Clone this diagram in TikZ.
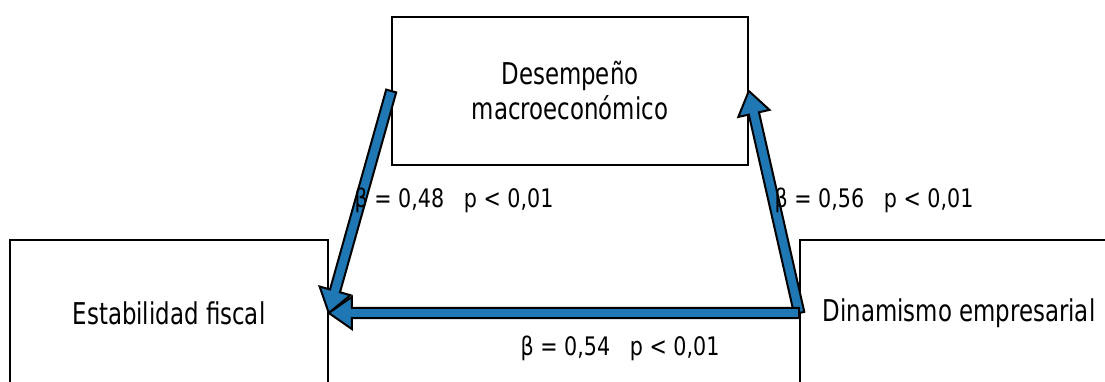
\documentclass[tikz,border=0pt]{standalone}
\usepackage{fontspec}
\setmainfont{DejaVu Sans}[FakeStretch=0.81]
\newfontfamily\boxfont{DejaVu Sans}[FakeStretch=0.763]
\usetikzlibrary{calc}
\definecolor{arrblue}{HTML}{1F77B4}
\tikzset{
  box/.style={draw=black,line width=1.6pt,fill=white,inner sep=0pt,align=center,
    font=\boxfont\fontsize{30}{35}\selectfont},
  lab/.style={font=\fontsize{25.5}{30}\selectfont,inner sep=0pt},
  fat/.style={draw=black,line width=2pt,fill=arrblue,line join=miter}
}
\newcommand\sw{5.2pt}
\newcommand\hw{16pt}
\newcommand\hl{23pt}
\newcommand\fatarrow[2]{%
  \coordinate (H) at ($(#2)!\hl!(#1)$);
  \draw[fat] ($(#1)!\sw!90:(#2)$) -- ($(H)!\sw!-90:(#1)$) -- ($(H)!\hw!-90:(#1)$)
    -- (#2) -- ($(H)!\hw!90:(#1)$) -- ($(H)!\sw!90:(#1)$) -- ($(#1)!\sw!-90:(#2)$) -- cycle;
}
\begin{document}
\begin{tikzpicture}[x=1pt,y=-1pt]
\useasboundingbox (0,0) rectangle (1105,382);
\clip (0,0) rectangle (1105,382);
\node[box,minimum width=356pt,minimum height=148pt] (top) at (570,91) {Desempeño\\macroeconómico};
\node[box,minimum width=318pt,minimum height=146pt] (left) at (169,313) {Estabilidad fiscal};
\node[box,minimum width=318pt,minimum height=146pt] (right) at (959,313) {Dinamismo empresarial};
\fatarrow{top.west}{left.east}
\fatarrow{right.west}{top.east}
\fatarrow{right.west}{left.east}
\node[lab] (l1) at (454,200) {β = 0,48\ \ \ p < 0,01};
\node[lab] (l2) at (874,200) {β = 0,56\ \ \ p < 0,01};
\node[lab] (l3) at (620,348) {β = 0,54\ \ \ p < 0,01};
\end{tikzpicture}
\end{document}
